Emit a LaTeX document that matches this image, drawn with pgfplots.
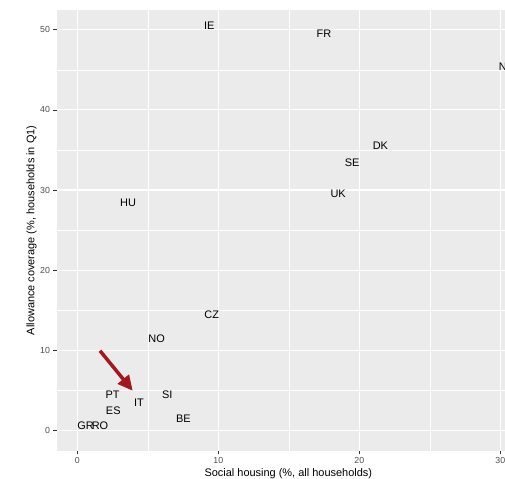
\documentclass[border=0pt]{standalone}
\usepackage{fontspec}
\setmainfont{Liberation Sans}
\usepackage{pgfplots}
\usepackage{pgfplotstable}
\pgfplotsset{compat=1.18}
\usetikzlibrary{arrows.meta}

\definecolor{panelgrey}{HTML}{EBEBEB}
\definecolor{tickgrey}{HTML}{333333}
\definecolor{labelgrey}{HTML}{4D4D4D}
\definecolor{arrowred}{HTML}{A3181E}

% country labels: social housing (x) vs allowance coverage (y)
\pgfplotstableread{
label x y
IE 9.36 50.47
FR 17.5 49.5
NL 30.4 45.4
DK 21.5 35.5
SE 19.5 33.4
UK 18.5 29.5
HU 3.6 28.45
CZ 9.53 14.5
NO 5.63 11.45
PT 2.5 4.43
IT 4.38 3.47
SI 6.38 4.43
ES 2.55 2.47
BE 7.52 1.47
GR 0.58 0.56
RO 1.61 0.56
}\countries

\begin{document}
\begin{tikzpicture}
\begin{axis}[
  scale only axis, width=462.6bp, height=440.7bp,
  xmin=-1.44, xmax=31.37, ymin=-2.52, ymax=52.46,
  xtick={0,10,20,30}, ytick={0,10,...,50},
  minor xtick={5,15,25}, minor ytick={5,15,...,45},
  grid=both,
  major grid style={white, line width=1.07bp},
  minor grid style={white, line width=0.53bp},
  axis background/.style={fill=panelgrey},
  axis line style={draw=none},
  tick pos=left, tick align=outside,
  major tick length=3.5bp, minor tick length=0pt,
  tick style={tickgrey, line width=0.5bp},
  ticklabel style={font=\fontsize{8.8}{10}\selectfont, text=labelgrey},
  /pgf/number format/assume math mode=true,
  xlabel={Social housing (\%, all households)},
  ylabel={Allowance coverage (\%, households in Q1)},
  label style={font=\fontsize{11}{13}\selectfont},
  xlabel style={at={(axis description cs:0.5,0)}, anchor=base, yshift=-25.3bp},
  ylabel style={at={(axis description cs:-0.0491,0.5)}, anchor=base},
]
\addplot[only marks, mark=*, mark size=0pt, mark options={draw=none, fill=none},
  nodes near coords, point meta=explicit symbolic,
  nodes near coords style={anchor=center, inner sep=0pt,
    font=\fontsize{11}{13}\selectfont, text=black}]
  table[x=x, y=y, meta=label] {\countries};
\addplot[arrowred, line width=3.5bp, -{Triangle[length=15bp, width=14bp]}]
  coordinates {(1.61,9.95) (3.93,4.96)};
\end{axis}
\pgfresetboundingbox
\path[use as bounding box] ([xshift=-57bp, yshift=10bp]current axis.north west)
  rectangle ([xshift=-14.6bp, yshift=-28.3bp]current axis.south east);
\end{tikzpicture}
\end{document}
